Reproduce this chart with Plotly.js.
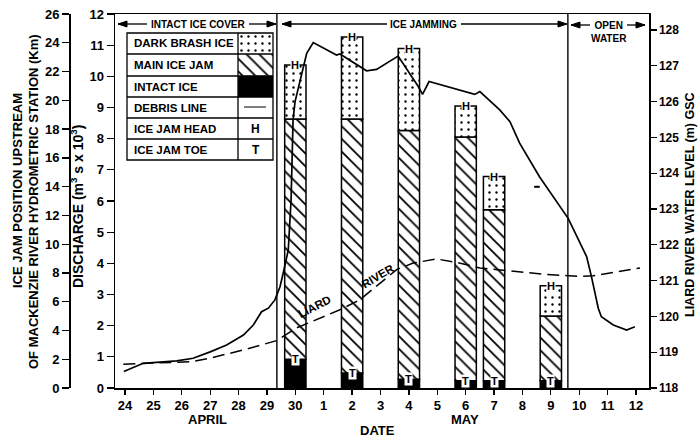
<!DOCTYPE html>
<html><head><meta charset="utf-8">
<script src="https://cdn.plot.ly/plotly-3.0.1.min.js"></script>
<style>html,body{margin:0;padding:0;background:#fff}</style>
</head><body><div id="chart" style="width:699px;height:437px"></div>
<script>
// ---- DATA ----
const dayIndex = [0,1,2,3,4,5,6,7,8,9,10,11,12,13,14,15,16,17,18];
const dayLabels = ['24','25','26','27','28','29','30','1','2','3','4','5','6','7','8','9','10','11','12'];

// ice jam observations (km upstream of Mackenzie River hydrometric station)
const jamDay = [6, 8, 10, 12, 13, 15];            // Apr 30, May 2, 4, 6, 7, 9
const jamToe = [2.0, 1.05, 0.6, 0.5, 0.5, 0.5];    // intact ice / toe
const jamMainTop = [18.7, 18.7, 17.9, 17.45, 12.4, 5.0];
const jamHead = [22.45, 24.4, 23.6, 19.6, 14.7, 7.1];

// Liard River water level (m GSC)
const levelDay = [-0.04,0.64,1.82,2.4,3.0,3.58,4.17,4.52,4.81,5.05,5.28,5.46,5.57,5.75,5.85,5.92,5.99,6.2,6.4,6.63,7.45,7.57,7.92,8.51,8.86,9.62,10.33,10.48,10.71,12.32,12.5,13.2,13.56,13.9,14.6,15.43,15.61,16.26,16.43,16.67,16.78,17.2,17.67,17.96];
const levelM = [118.46,118.69,118.76,118.83,119.01,119.2,119.48,119.76,120.13,120.23,120.46,120.83,121.2,121.85,123.25,125.49,126.0,126.74,127.35,127.65,127.3,127.33,127.16,126.86,126.9,127.27,126.42,126.2,126.56,126.2,126.28,125.77,125.44,124.84,123.9,122.97,122.74,121.67,121.11,120.23,119.99,119.76,119.62,119.71];

// Liard River discharge (m3/s x 10^3)
const dischargeDay = [-0.06,0.64,2.4,3.0,4.17,5.34,6.05,7.57,8.27,9.57,10.15,10.98,11.68,12.5,13.68,14.85,16.03,16.49,17.2,18.14];
const dischargeQ = [0.76,0.79,0.85,0.96,1.22,1.52,1.93,2.51,2.83,3.8,4.01,4.14,4.03,3.85,3.74,3.64,3.58,3.6,3.71,3.85];

// debris line observation
const debrisDay = [14.51];
const debrisLevel = [123.62];

// period boundaries (day index)
const periodBounds = [5.35, 15.6];

// ---- helpers (pixel -> paper) ----
const L = 69, R = 649, T = 14, B = 388;
const px = v => (v - L) / (R - L);
const py = v => (B - v) / (B - T);
const FONT = 'Liberation Sans, Arial, sans-serif';

const black = '#000';
const barW = 0.75;
const traces = [
  {type:'bar', x: jamDay, y: jamToe, base: jamDay.map(()=>0), width: barW,
   marker:{color: black, line:{color: black, width: 1.5}}, yaxis:'y', xaxis:'x', name:'Intact ice'},
  {type:'bar', x: jamDay, y: jamMainTop.map((v,i)=>v - jamToe[i]), base: jamToe, width: barW,
   marker:{color:'#fff', line:{color: black, width: 1.5},
           pattern:{shape:'\\', fgcolor: black, bgcolor:'#fff', size: 9, solidity: 0.2}},
   yaxis:'y', xaxis:'x', name:'Main ice jam'},
  {type:'bar', x: jamDay, y: jamHead.map((v,i)=>v - jamMainTop[i]), base: jamMainTop, width: barW,
   marker:{color:'#fff', line:{color: black, width: 1.5},
           pattern:{shape:'.', fgcolor: black, bgcolor:'#fff', size: 7, solidity: 0.09}},
   yaxis:'y', xaxis:'x', name:'Dark brash ice'},
  {type:'scatter', mode:'lines', x: dischargeDay, y: dischargeQ, yaxis:'y2', xaxis:'x',
   line:{color: black, width: 1.5, dash:'12px,6px'}, name:'Liard River discharge'},
  {type:'scatter', mode:'lines', x: levelDay, y: levelM, yaxis:'y3', xaxis:'x',
   line:{color: black, width: 1.7}, name:'Liard River water level'},
  {type:'scatter', mode:'markers', x: debrisDay, y: debrisLevel, yaxis:'y3', xaxis:'x',
   marker:{symbol:'line-ew', size: 4, line:{color: black, width: 2}}, name:'Debris line'},
  // legend swatches
  {type:'bar', x:[0.5], y:[1], base:[2], width:[1], xaxis:'x2', yaxis:'y4',
   marker:{color:'#fff', line:{width:0}, pattern:{shape:'.', fgcolor: black, bgcolor:'#fff', size: 7, solidity: 0.09}}},
  {type:'bar', x:[0.5], y:[1], base:[1], width:[1], xaxis:'x2', yaxis:'y4',
   marker:{color:'#fff', line:{width:0}, pattern:{shape:'\\', fgcolor: black, bgcolor:'#fff', size: 9, solidity: 0.2}}},
  {type:'bar', x:[0.5], y:[1], base:[0], width:[1], xaxis:'x2', yaxis:'y4',
   marker:{color: black, line:{width:0}}}
];

const annotations = [];
const shapes = [];
const txt = (x, y, text, size, opts={}) => annotations.push(Object.assign({
  xref:'paper', yref:'paper', x: px(x), y: py(y), text, showarrow:false,
  xanchor:'center', yanchor:'middle',
  font:{family: FONT, size, color: black, weight:'bold'}}, opts));

// H and T markers on bars
jamDay.forEach((d,i)=>{
  annotations.push({xref:'x', yref:'y', x:d, y:jamHead[i], text:'H', showarrow:false,
    bgcolor:'#fff', borderpad:0, xanchor:'center', yanchor:'middle', font:{family:FONT, size:11, color:black, weight:'bold'}});
  annotations.push({xref:'x', yref:'y', x:d, y:jamToe[i], text:'T', showarrow:false,
    bgcolor:'#fff', borderpad:0, xanchor:'center', yanchor:'middle', font:{family:FONT, size:11, color:black, weight:'bold'}});
});

// period headers
txt(198, 24, 'INTACT ICE COVER', 10);
txt(424, 24, 'ICE JAMMING', 10);
txt(609, 32, 'OPEN<br>WATER', 10);
// arrows drawn as shapes (line + triangular head)
const arrow = (tip, tail, y) => {
  shapes.push({type:'line', xref:'paper', yref:'paper', x0:px(tail), x1:px(tip), y0:py(y), y1:py(y),
    line:{color:black, width:1.3}});
  const dir = tip < tail ? 1 : -1, len = 9, half = 3;
  shapes.push({type:'path', xref:'paper', yref:'paper',
    path:`M ${px(tip)},${py(y)} L ${px(tip+dir*len)},${py(y-half)} L ${px(tip+dir*len)},${py(y+half)} Z`,
    fillcolor:black, line:{color:black, width:1}});
};
arrow(118,147,24); arrow(276,249,24); arrow(282,387,24); arrow(567,461,24);
arrow(571,590,25); arrow(645,627,25);

// period boundary lines
periodBounds.forEach(b => shapes.push({type:'line', xref:'x', yref:'paper', x0:b, x1:b, y0:0, y1:1,
  line:{color:black, width:1.4}}));

// legend table
const tx0 = 127, tx1 = 273, tdiv = 238, rows = [33, 54, 76, 97, 118, 139, 160];
shapes.push({type:'rect', xref:'paper', yref:'paper', x0:px(tx0), x1:px(tx1), y0:py(rows[6]), y1:py(rows[0]),
  line:{color:black, width:1.3}});
shapes.push({type:'line', xref:'paper', yref:'paper', x0:px(tdiv), x1:px(tdiv), y0:py(rows[6]), y1:py(rows[0]),
  line:{color:black, width:1.3}});
for (let k=1;k<6;k++) shapes.push({type:'line', xref:'paper', yref:'paper', x0:px(tx0), x1:px(tx1),
  y0:py(rows[k]), y1:py(rows[k]), line:{color:black, width:1.3}});
shapes.push({type:'line', xref:'paper', yref:'paper', x0:px(244), x1:px(266), y0:py(107), y1:py(107),
  line:{color:black, width:1}});
const legendLabels = ['DARK BRASH ICE','MAIN ICE JAM','INTACT ICE','DEBRIS LINE','ICE JAM HEAD','ICE JAM TOE'];
legendLabels.forEach((s,k)=> txt(132, (rows[k]+rows[k+1])/2, s, 11.5, {xanchor:'left'}));
txt(255.5, (rows[4]+rows[5])/2, 'H', 12);
txt(255.5, (rows[5]+rows[6])/2, 'T', 12);

// LIARD RIVER labels
txt(314, 307, 'LIARD', 11.5, {textangle:-27});
txt(378, 276, 'RIVER', 11.5, {textangle:-31});

// month / axis labels
txt(207, 420, 'APRIL', 13);
txt(465, 420, 'MAY', 13);
txt(377, 430, 'DATE', 13);
txt(77, 207, 'DISCHARGE (m<sup>3</sup> s x 10<sup>3</sup>)', 14, {textangle:-90});
txt(17, 191, 'ICE JAM POSITION UPSTREAM', 13, {textangle:-90});
txt(33, 202, 'OF MACKENZIE RIVER HYDROMETRIC STATION (Km)', 13, {textangle:-90});
txt(690, 205, 'LIARD RIVER WATER LEVEL (m) GSC', 12.5, {textangle:-90});

const tickFont = {family: FONT, size: 13, color: black, weight:'bold'};
const layout = {
  width: 699, height: 437,
  margin: {l: L, r: 699 - R, t: T, b: 437 - B},
  paper_bgcolor:'#fff', plot_bgcolor:'#fff',
  font:{family: FONT, color: black},
  showlegend:false, barmode:'overlay',
  xaxis: {domain:[px(115), 1], range:[(115-125)/28.39, (649-125)/28.39], tickmode:'array',
    tickvals: dayIndex, ticktext: dayLabels, ticks:'outside', ticklen:5, tickwidth:1.3, tickcolor:black,
    showline:true, linewidth:1.5, linecolor:black, mirror:true, showgrid:false, zeroline:false,
    tickfont: tickFont, anchor:'y'},
  yaxis: {range:[0,26], dtick:2, anchor:'free', position:0, ticks:'outside', ticklen:7, tickwidth:1.3,
    tickcolor:black, showline:true, linewidth:1.5, linecolor:black, showgrid:false, zeroline:false,
    tickfont: tickFont},
  yaxis2: {range:[0,12], dtick:1, overlaying:'y', anchor:'x', side:'left', ticks:'outside', ticklen:7,
    tickwidth:1.3, tickcolor:black, showline:true, linewidth:1.5, linecolor:black, showgrid:false,
    zeroline:false, tickfont: tickFont},
  yaxis3: {range:[118, 118 + 374/35.8], dtick:1, overlaying:'y', anchor:'x', side:'right', ticks:'outside',
    ticklen:6, tickwidth:1.3, tickcolor:black, showline:true, linewidth:1.5, linecolor:black,
    showgrid:false, zeroline:false, tickfont: Object.assign({}, tickFont, {size:12})},
  xaxis2: {domain:[px(tdiv), px(tx1)], range:[0,1], visible:false, anchor:'y4', fixedrange:true},
  yaxis4: {domain:[py(rows[3]), py(rows[0])], range:[0,3], visible:false, anchor:'x2', fixedrange:true},
  annotations, shapes
};
Plotly.newPlot('chart', traces, layout, {displayModeBar:false, staticPlot:true});
</script></body></html>
